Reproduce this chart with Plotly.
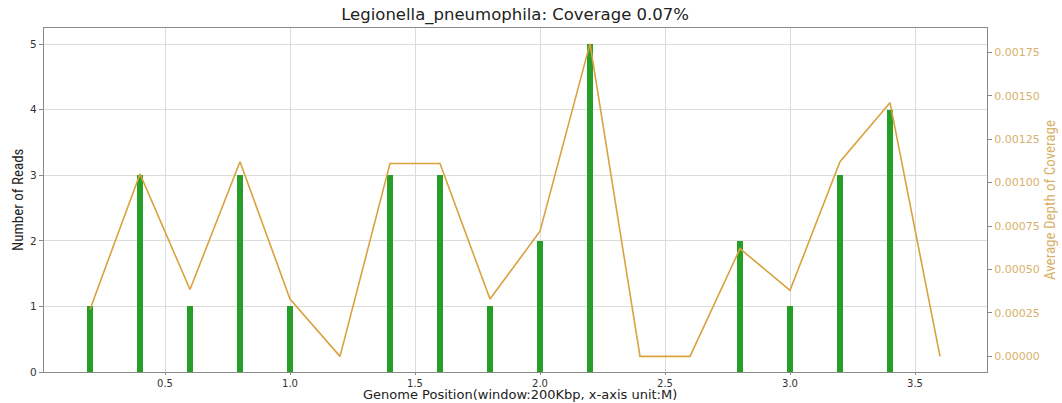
import plotly.graph_objects as go

positions = [0.2, 0.4, 0.6, 0.8, 1.0, 1.2, 1.4, 1.6, 1.8, 2.0, 2.2, 2.4, 2.6, 2.8, 3.0, 3.2, 3.4, 3.6]
reads = [1, 3, 1, 3, 1, 0, 3, 3, 1, 2, 5, 0, 0, 2, 1, 3, 4, 0]
depth = [0.00027, 0.00105, 0.000385, 0.00112, 0.00033, 0.0, 0.00111, 0.00111, 0.00033,
         0.00072, 0.0018, 0.0, 0.0, 0.00062, 0.00038, 0.00112, 0.00146, 0.0]

title_text = "Legionella_pneumophila: Coverage 0.07%"
x_title = "Genome Position(window:200Kbp, x-axis unit:M)"
y_title = "Number of Reads"
y2_title = "Average Depth of Coverage"
x_ticks = [0.5, 1.0, 1.5, 2.0, 2.5, 3.0, 3.5]
y_ticks = [0, 1, 2, 3, 4, 5]
y2_ticks = [0.0, 0.00025, 0.0005, 0.00075, 0.001, 0.00125, 0.0015, 0.00175]

font_main = "DejaVu Sans"
font_narrow = "Liberation Sans Narrow, Roboto Condensed, Liberation Sans"
gold = "#d9a23f"
gold_lbl = "#d8b26a"
spine = "#8a8a8a"

fig = go.Figure()
fig.add_trace(go.Bar(x=positions, y=reads, width=0.021, marker=dict(color="#279e27", line=dict(width=0)),
                     yaxis="y", showlegend=False))
fig.add_trace(go.Scatter(x=positions, y=depth, mode="lines", line=dict(color=gold, width=1.6),
                         yaxis="y2", showlegend=False))

fig.update_layout(
    width=1062, height=403,
    margin=dict(l=44, r=75, t=28, b=31),
    paper_bgcolor="white", plot_bgcolor="white",
    bargap=0,
    title=dict(text=title_text, x=0.485, xanchor="center", y=1 - 14 / 403, yanchor="middle",
               font=dict(family=font_main, size=16.5, color="#222")),
    xaxis=dict(range=[0.016, 3.788], tickvals=x_ticks, ticktext=[f"{v:.1f}" for v in x_ticks],
               showgrid=True, gridcolor="#dcdcdc", gridwidth=1, zeroline=False,
               showline=True, linecolor=spine, linewidth=1.2, mirror=True,
               ticks="outside", ticklen=2, tickcolor=spine,
               tickfont=dict(family=font_main, size=10, color="#333")),
    yaxis=dict(range=[0, 5.245], tickvals=y_ticks, showgrid=True, gridcolor="#dcdcdc", gridwidth=1,
               zeroline=False, showline=True, linecolor=spine, linewidth=1.2,
               ticks="outside", ticklen=4, tickcolor=spine,
               tickfont=dict(family=font_main, size=10.5, color="#333")),
    yaxis2=dict(range=[-0.00009, 0.00189], overlaying="y", side="right", tickvals=y2_ticks,
                tickformat=".5f", showgrid=False, zeroline=False, showline=True, linecolor=spine,
                linewidth=1.2, ticks="outside", ticklen=4, tickcolor=spine,
                tickfont=dict(family=font_main, size=11, color=gold_lbl)),
    annotations=[
        dict(text=x_title, xref="paper", yref="paper", x=0.505, y=0, yanchor="bottom",
             xanchor="center", yshift=-31, borderpad=0, showarrow=False,
             font=dict(family=font_main, size=13, color="#222")),
        dict(text=y_title, xref="paper", yref="paper", x=0, xshift=-26, y=0.5, textangle=-90,
             xanchor="center", yanchor="middle", showarrow=False,
             font=dict(family=font_narrow, size=15, color="#222")),
        dict(text=y2_title, xref="paper", yref="paper", x=1, xshift=63, y=0.5, textangle=-90,
             xanchor="center", yanchor="middle", showarrow=False,
             font=dict(family=font_narrow, size=15, color=gold_lbl)),
    ],
)

fig.write_html("out.html", config={"displayModeBar": False},
               post_script="document.body.style.margin='0px';document.body.style.padding='0px';")
